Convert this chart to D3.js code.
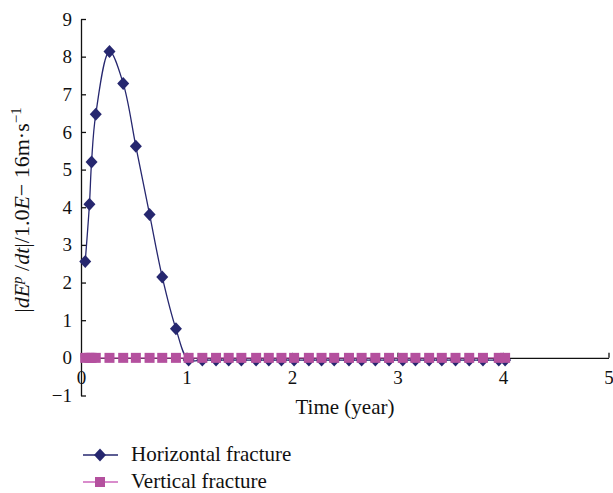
<!DOCTYPE html>
<html>
<head>
<meta charset="utf-8">
<script src="https://cdn.jsdelivr.net/npm/d3@7"></script>
<style>
  body { margin: 0; background: #fff; }
  text { font-family: "Liberation Serif", "Times New Roman", serif; fill: #111; }
</style>
</head>
<body>
<div id="chart"></div>
<script>
// time in years, shared by both series
var time = [0.04, 0.08, 0.1, 0.14, 0.27, 0.4, 0.52, 0.65, 0.77, 0.9,
    1.02, 1.15, 1.28, 1.4, 1.52, 1.66, 1.78, 1.9, 2.02, 2.16, 2.28, 2.4, 2.54,
    2.66, 2.79, 2.92, 3.05, 3.17, 3.3, 3.42, 3.55, 3.68, 3.81, 3.96, 4.02];

var horizontal = [2.56, 4.08, 5.2, 6.47, 8.14, 7.29, 5.62, 3.81, 2.15, 0.77,
    -0.06, -0.06, -0.06, -0.06, -0.06, -0.06, -0.06, -0.06, -0.06, -0.06, -0.06, -0.06, -0.06,
    -0.06, -0.06, -0.06, -0.06, -0.06, -0.06, -0.06, -0.06, -0.06, -0.06, -0.06, -0.06];

var vertical = [0, 0, 0, 0, 0, 0, 0, 0, 0, 0,
    0, 0, 0, 0, 0, 0, 0, 0, 0, 0, 0, 0, 0,
    0, 0, 0, 0, 0, 0, 0, 0, 0, 0, 0, 0];

var xTicks = [0, 1, 2, 3, 4, 5];
var yTicks = [-1, 0, 1, 2, 3, 4, 5, 6, 7, 8, 9];

var navy = "#26276f", pink = "#b4509e", pinkLine = "#cc66bb";

var svg = d3.select("#chart").append("svg")
    .attr("width", 613)
    .attr("height", 493);

var x = d3.scaleLinear().domain([0, 5]).range([81, 608.5]);
var y = d3.scaleLinear().domain([-1, 9]).range([395.5, 19]);

// Y axis, ticks pointing inwards
svg.append("g")
    .attr("transform", "translate(" + x(0) + ",0)")
    .call(d3.axisLeft(y).tickValues(yTicks).tickFormat(d3.format("d"))
        .tickSizeInner(-5).tickSizeOuter(0).tickPadding(9))
    .call(g => g.selectAll("text").style("font-size", "19px").attr("fill", "#111"));

// X axis sits on y = 0
svg.append("g")
    .attr("transform", "translate(0," + y(0) + ")")
    .call(d3.axisBottom(x).tickValues(xTicks).tickFormat(d3.format("d"))
        .tickSizeInner(-5).tickSizeOuter(0).tickPadding(13))
    .call(g => g.selectAll("text").style("font-size", "19px").attr("fill", "#111"));

svg.selectAll(".domain, .tick line").attr("stroke", "#111").attr("stroke-width", 1.3);

var hData = time.map((t, i) => [t, horizontal[i]]);
var vData = time.map((t, i) => [t, vertical[i]]);

var line = d3.line()
    .x(d => x(d[0]))
    .y(d => y(d[1]))
    .curve(d3.curveCatmullRom.alpha(0.5));

svg.append("path")
    .attr("d", line(hData))
    .attr("fill", "none")
    .attr("stroke", navy)
    .attr("stroke-width", 1.3);

svg.selectAll(".dia")
    .data(hData)
    .enter().append("path")
    .attr("class", "dia")
    .attr("d", "M0,-6.5L6,0L0,6.5L-6,0Z")
    .attr("transform", d => "translate(" + x(d[0]) + "," + y(d[1]) + ")")
    .attr("fill", navy);

svg.append("path")
    .attr("d", line(vData))
    .attr("fill", "none")
    .attr("stroke", pinkLine)
    .attr("stroke-width", 1.3);

svg.selectAll(".sq")
    .data(vData)
    .enter().append("rect")
    .attr("class", "sq")
    .attr("x", d => x(d[0]) - 5)
    .attr("y", d => y(d[1]) - 5)
    .attr("width", 10)
    .attr("height", 10)
    .attr("fill", pink);

// axis titles
svg.append("text")
    .attr("x", 345)
    .attr("y", 414)
    .attr("text-anchor", "middle")
    .style("font-size", "21px")
    .text("Time (year)");

var yl = svg.append("text")
    .attr("transform", "translate(29,210) rotate(-90)")
    .attr("text-anchor", "middle")
    .style("font-size", "22px");
yl.append("tspan").text("|");
yl.append("tspan").style("font-style", "italic").text("dE");
yl.append("tspan").style("font-style", "italic").style("font-size", "15px").attr("dy", "-7").text("p");
yl.append("tspan").attr("dy", "7").text(" /");
yl.append("tspan").style("font-style", "italic").text("dt");
yl.append("tspan").text("|/1.0");
yl.append("tspan").style("font-style", "italic").text("E");
yl.append("tspan").text("\u2212 16m\u00b7s");
yl.append("tspan").style("font-size", "15px").attr("dy", "-8").text("\u22121");

// legend
var legend = [
    { name: "Horizontal fracture", color: navy, shape: "diamond" },
    { name: "Vertical fracture", color: pinkLine, fill: pink, shape: "square" }
];
legend.forEach(function (l, i) {
    var ly = 455 + i * 27;
    svg.append("line")
        .attr("x1", 83).attr("x2", 118)
        .attr("y1", ly).attr("y2", ly)
        .attr("stroke", l.color).attr("stroke-width", 1.3);
    if (l.shape === "diamond") {
        svg.append("path")
            .attr("d", "M0,-6.5L6,0L0,6.5L-6,0Z")
            .attr("transform", "translate(100," + ly + ")")
            .attr("fill", l.color);
    } else {
        svg.append("rect")
            .attr("x", 95).attr("y", ly - 5)
            .attr("width", 10).attr("height", 10)
            .attr("fill", l.fill);
    }
    svg.append("text")
        .attr("x", 131)
        .attr("y", ly + 6)
        .style("font-size", "21px")
        .text(l.name);
});
</script>
</body>
</html>
